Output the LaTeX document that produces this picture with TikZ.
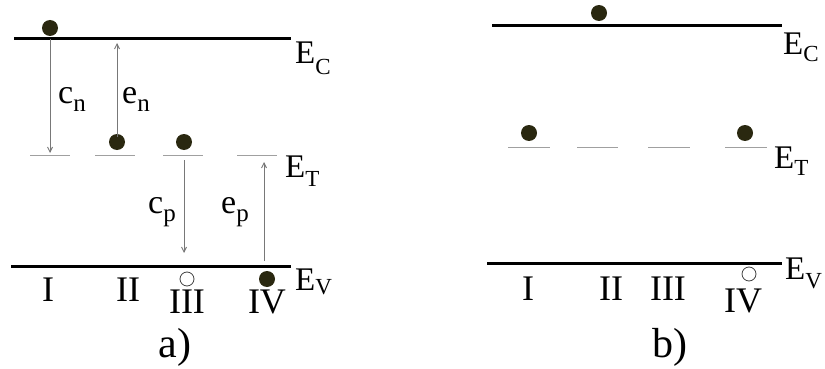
\documentclass[tikz,border=0pt]{standalone}
\usepackage{fontspec}
\setmainfont{Liberation Serif}
\usetikzlibrary{positioning,arrows.meta}
\definecolor{dotcol}{RGB}{42,40,16}
\definecolor{trapgray}{RGB}{160,160,160}
\definecolor{arrgray}{RGB}{120,120,120}
% level label E with subscript
\newcommand{\elab}[2][-9pt]{E\raisebox{#1}{\fontsize{23}{23}\selectfont #2}}
% rate label with subscript
\newcommand{\rlab}[2]{#1\raisebox{-8pt}{\fontsize{25}{25}\selectfont #2}}

\begin{document}
\begin{tikzpicture}[x=1pt,y=-1pt,>={Straight Barb[length=5pt,width=5pt]},
  band/.style={line width=3pt},
  trap/.style={trapgray,line width=1pt},
  trans/.style={->,arrgray,line width=0.9pt},
  electron/.style={circle,fill=dotcol,inner sep=0pt,minimum size=16pt},
  hole/.style={circle,draw=black!75,fill=white,line width=0.8pt,inner sep=0pt,minimum size=14pt},
  lvl/.style={anchor=base west,inner sep=0pt,font=\fontsize{33}{33}\selectfont},
  rate/.style={anchor=base west,inner sep=0pt,font=\fontsize{34}{34}\selectfont},
  roman/.style={anchor=base,inner sep=0pt,font=\fontsize{36}{36}\selectfont},
  caption/.style={anchor=base,inner sep=0pt,font=\fontsize{42}{42}\selectfont}]
  \useasboundingbox (0,0) rectangle (825,369);

  % ---- a) ----
  \coordinate (aC0) at (14,39);  \coordinate (aC1) at (291,39);
  \coordinate (aV0) at (11,266); \coordinate (aV1) at (291,266);
  \draw[band] (aC0) -- (aC1);
  \draw[band] (aV0) -- (aV1);
  \foreach \xa/\xb in {30/70,95/135,163/203,237/277}
    \draw[trap] (\xa,155) -- (\xb,155);
  \node[lvl] (aEC) at (295,64) {\elab[-10pt]{C}};
  \node[lvl] (aET) at (285,177) {\elab{T}};
  \node[lvl] (aEV) at (295,290) {\elab[-4pt]{V}};

  \node[electron] (aeC) at (50,28) {};
  \node[electron] (aeII) at (117,142) {};
  \node[electron] (aeIII) at (184,142) {};
  \node[hole] (ahIII) at (187,279) {};
  \node[electron] (aeIV) at (267,279) {};

  \coordinate (cnS) at (50,39);   \coordinate (cnE) at (50,153);
  \coordinate (enS) at (117,137); \coordinate (enE) at (117,43);
  \coordinate (cpS) at (184,160); \coordinate (cpE) at (184,253);
  \coordinate (epS) at (264,261); \coordinate (epE) at (264,162);
  \draw[trans] (cnS) -- (cnE);
  \draw[trans] (enS) -- (enE);
  \draw[trans] (cpS) -- (cpE);
  \draw[trans] (epS) -- (epE);
  \node[rate] (cn) at (58,103) {\rlab{c}{n}};
  \node[rate] (en) at (122,103) {\rlab{e}{n}};
  \node[rate] (cp) at (148,213) {\rlab{c}{p}};
  \node[rate] (ep) at (221,213) {\rlab{e}{p}};

  \node[roman] (aI) at (48,301) {I};
  \node[roman] (aII) at (128,301) {II};
  \node[roman] (aIII) at (187,313) {III};
  \node[roman] (aIV) at (267,313) {IV};
  \node[caption] (capa) at (175,357) {a)};

  % ---- b) ----
  \coordinate (bC0) at (492,26);  \coordinate (bC1) at (782,26);
  \coordinate (bV0) at (487,263); \coordinate (bV1) at (782,263);
  \draw[band] (bC0) -- (bC1);
  \draw[band] (bV0) -- (bV1);
  \foreach \xa/\xb in {508/550,577/618,648/690,725/767}
    \draw[trap] (\xa,147) -- (\xb,147);
  \node[lvl] (bEC) at (783,55) {\elab[-7pt]{C}};
  \node[lvl] (bET) at (774,168) {\elab[-7pt]{T}};
  \node[lvl] (bEV) at (785,279) {\elab{V}};

  \node[electron] (beC) at (599,13) {};
  \node[electron] (beI) at (529,133) {};
  \node[electron] (beIV) at (745,133) {};
  \node[hole] (bhIV) at (749,274) {};

  \node[roman] (bI) at (528,300) {I};
  \node[roman] (bII) at (611,300) {II};
  \node[roman] (bIII) at (668,300) {III};
  \node[roman] (bIV) at (743,312) {IV};
  \node[caption] (capb) at (670,357) {b)};
\end{tikzpicture}
\end{document}
